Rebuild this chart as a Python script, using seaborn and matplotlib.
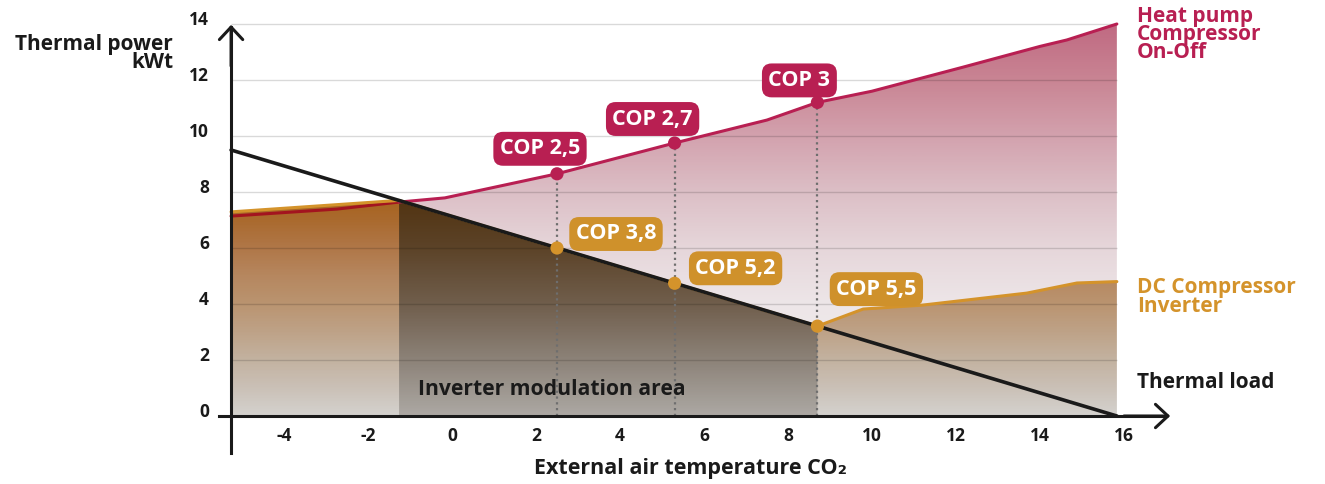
import numpy as np
import matplotlib
matplotlib.use("Agg")
import matplotlib.pyplot as plt
from matplotlib.colors import LinearSegmentedColormap
from matplotlib.transforms import ScaledTranslation
import seaborn as sns

# ---- data: thermal power (kWt) versus external air temperature (°C) ----
heatpump_temp = [-5.26, -2.74, -1.26, -0.17, 2.5, 5.3, 7.5, 8.7, 10.0, 12.17, 14.0, 14.64, 15.83]
heatpump_kw = [7.14, 7.39, 7.64, 7.79, 8.65, 9.75, 10.57, 11.2, 11.6, 12.46, 13.2, 13.43, 14.0]

inverter_temp = [-5.26, -1.26, 2.5, 5.3, 8.7, 9.79, 11.2, 13.69, 14.88, 15.83]
inverter_kw = [7.29, 7.7, 6.0, 4.74, 3.21, 3.82, 3.96, 4.39, 4.75, 4.8]

load_temp = [-5.26, 15.83]
load_kw = [9.5, 0.0]

cop_temp = [2.5, 5.3, 8.7]
cop_heatpump_kw = [8.65, 9.75, 11.2]
cop_heatpump_labels = ["COP 2,5", "COP 2,7", "COP 3"]
cop_inverter_kw = [6.0, 4.74, 3.21]
cop_inverter_labels = ["COP 3,8", "COP 5,2", "COP 5,5"]

modulation_span = [-1.26, 8.7]

x_ticks = [-4, -2, 0, 2, 4, 6, 8, 10, 12, 14, 16]
y_ticks = [0, 2, 4, 6, 8, 10, 12, 14]

# ---- style ----
RED = "#b81f52"
RED_DARK = "#a3141f"
ORANGE = "#d4932b"
INK = "#1a1a1a"

sns.set_theme(style="white")
plt.rcParams["font.family"] = ["Open Sans", "DejaVu Sans"]
plt.rcParams["font.weight"] = "bold"
plt.rcParams["axes.unicode_minus"] = False

fig = plt.figure(figsize=(13.25, 4.84), dpi=100)
W, H = 1325, 484
L, R, T, B = 150, 1190, 5, 470
ax = fig.add_axes([L / W, (H - B) / H, (R - L) / W, (B - T) / H])
ax.set_facecolor("none")
x0_px, px_per_x, y0_px, px_per_y = 452, 42, 416, 28
ax.set_xlim((L - x0_px) / px_per_x, (R - x0_px) / px_per_x)
ax.set_ylim((y0_px - B) / px_per_y, (y0_px - T) / px_per_y)

x_min, x_max = heatpump_temp[0], heatpump_temp[-1]


def gradient_fill(xs, ys, stops, zorder):
    """Fill the area under (xs, ys) with a vertical colour gradient."""
    poly = ax.fill_between(xs, ys, 0, facecolor="none", edgecolor="none")
    top = stops[-1][0]
    cmap = LinearSegmentedColormap.from_list("g", [(v / top, c) for v, c in stops])
    grad = np.linspace(0, top, 400).reshape(-1, 1)
    im = ax.imshow(grad, cmap=cmap, vmin=0, vmax=top, origin="lower", aspect="auto",
                   extent=[min(xs), max(xs), 0, top], zorder=zorder,
                   interpolation="bilinear")
    im.set_clip_path(poly.get_paths()[0], transform=ax.transData)


pink_stops = [(0, "#f2f0f0"), (4, "#ede6e8"), (6, "#e6d6da"), (8, "#dcbfc6"),
              (10, "#d3a2ae"), (12, "#c98594"), (14, "#c06a82")]
orange_stops = [(0, "#d4d2ce"), (1, "#cac0b6"), (2, "#c3b2a0"), (3, "#bea287"),
                (4, "#ba9470"), (5, "#b6875f"), (6, "#b07748"), (7, "#aa6a2e"),
                (7.7, "#a86420"), (14, "#a86420")]
dark_stops = [(0, "#aca8a3"), (2, "#8c8278"), (4, "#705e4c"), (6, "#5c4328"),
              (7.7, "#523412"), (14, "#523412")]

gradient_fill(heatpump_temp, heatpump_kw, pink_stops, 1)
gradient_fill(inverter_temp, inverter_kw, orange_stops, 1.1)
mod_idx = [i for i, t in enumerate(inverter_temp)
           if modulation_span[0] <= t <= modulation_span[1]]
gradient_fill([inverter_temp[i] for i in mod_idx], [inverter_kw[i] for i in mod_idx],
              dark_stops, 1.2)

# gridlines over the fills
ax.hlines(y_ticks[1:], x_min, x_max, colors="black", alpha=0.15, lw=1, zorder=2)

# dotted guides from the on-off COP points down to the axis
ax.vlines(cop_temp, 0, cop_heatpump_kw, colors="#6e6e6e", linestyles=(0, (1, 1.6)),
          lw=1.6, zorder=3)

# curves
split = heatpump_temp.index(modulation_span[0])
sns.lineplot(x=heatpump_temp[:split + 1], y=heatpump_kw[:split + 1], ax=ax,
             color=RED_DARK, lw=2.2, estimator=None, sort=False, zorder=4)
sns.lineplot(x=heatpump_temp[split:], y=heatpump_kw[split:], ax=ax,
             color=RED, lw=2.2, estimator=None, sort=False, zorder=4)
sns.lineplot(x=inverter_temp, y=inverter_kw, ax=ax, color=ORANGE, lw=2.2,
             estimator=None, sort=False, zorder=4)
sns.lineplot(x=load_temp, y=load_kw, ax=ax, color=INK, lw=2.6,
             estimator=None, sort=False, zorder=4.5)

sns.scatterplot(x=cop_temp, y=cop_heatpump_kw, ax=ax, color=RED, s=90,
                edgecolor="none", zorder=5)
sns.scatterplot(x=cop_temp, y=cop_inverter_kw, ax=ax, color=ORANGE, s=90,
                edgecolor="none", zorder=5)

red_offsets = [(-17, 25), (-22, 24), (-18, 22)]
orange_offsets = [(59, 14), (61, 15), (59, 37)]
box = dict(boxstyle="round,pad=0.3,rounding_size=0.45", ec="none")
for t, v, lab, off in zip(cop_temp, cop_heatpump_kw, cop_heatpump_labels, red_offsets):
    ax.annotate(lab, (t, v), xytext=off, textcoords="offset pixels", ha="center",
                va="center", color="white", fontsize=15.5, fontweight="bold", zorder=6,
                bbox=dict(box, fc=RED))
for t, v, lab, off in zip(cop_temp, cop_inverter_kw, cop_inverter_labels, orange_offsets):
    ax.annotate(lab, (t, v), xytext=off, textcoords="offset pixels", ha="center",
                va="center", color="white", fontsize=15.5, fontweight="bold", zorder=6,
                bbox=dict(box, fc="#cf912b"))

# axes with arrow heads
for side in ["top", "right"]:
    ax.spines[side].set_visible(False)
ax.spines["left"].set_position(("data", x_min))
ax.spines["bottom"].set_position(("data", 0))
ax.spines["left"].set_bounds(-1.32, 13.9)
ax.spines["bottom"].set_bounds(-5.55, 17.0)
for side in ["left", "bottom"]:
    ax.spines[side].set_linewidth(2.2)
    ax.spines[side].set_color(INK)
    ax.spines[side].set_zorder(7)
arrow = dict(arrowstyle="->,head_length=0.45,head_width=0.42", lw=2.2, color=INK,
             mutation_scale=20, shrinkA=0, shrinkB=0)
ax.annotate("", xy=(x_min, 13.97), xytext=(x_min, 12.5), arrowprops=arrow,
            zorder=7, annotation_clip=False)
ax.annotate("", xy=(17.1, 0), xytext=(16.0, 0), arrowprops=arrow,
            zorder=7, annotation_clip=False)

ax.set_xticks(x_ticks)
ax.set_yticks(y_ticks)
ax.tick_params(axis="both", length=0, labelsize=12.5, labelcolor=INK)
ax.tick_params(axis="x", pad=8)
ax.tick_params(axis="y", pad=16)
for lbl in ax.get_xticklabels() + ax.get_yticklabels():
    lbl.set_fontweight("bold")
for lbl in ax.get_yticklabels():
    lbl.set_transform(lbl.get_transform() + ScaledTranslation(0, 6 / 100, fig.dpi_scale_trans))
ax.grid(False)

# titles and series names
ax.text(-6.64, 12.95, "Thermal power\nkWt", ha="right", va="center", fontsize=15,
        fontweight="bold", color=INK, linespacing=0.82)
ax.text(5.67, -1.86, "External air temperature CO₂", ha="center", va="center",
        fontsize=15.5, fontweight="bold", color=INK)
ax.text(-0.81, 0.93, "Inverter modulation area", ha="left", va="center", fontsize=15.2,
        fontweight="bold", color=INK, zorder=6)
ax.text(16.31, 1.21, "Thermal load", ha="left", va="center", fontsize=15,
        fontweight="bold", color=INK)
ax.text(16.31, 13.62, "Heat pump\nCompressor\nOn-Off", ha="left", va="center",
        fontsize=15, fontweight="bold", color=RED, linespacing=0.83)
ax.text(16.31, 4.25, "DC Compressor\nInverter", ha="left", va="center", fontsize=15,
        fontweight="bold", color=ORANGE, linespacing=0.83)

fig.savefig("out.png", dpi=100)
